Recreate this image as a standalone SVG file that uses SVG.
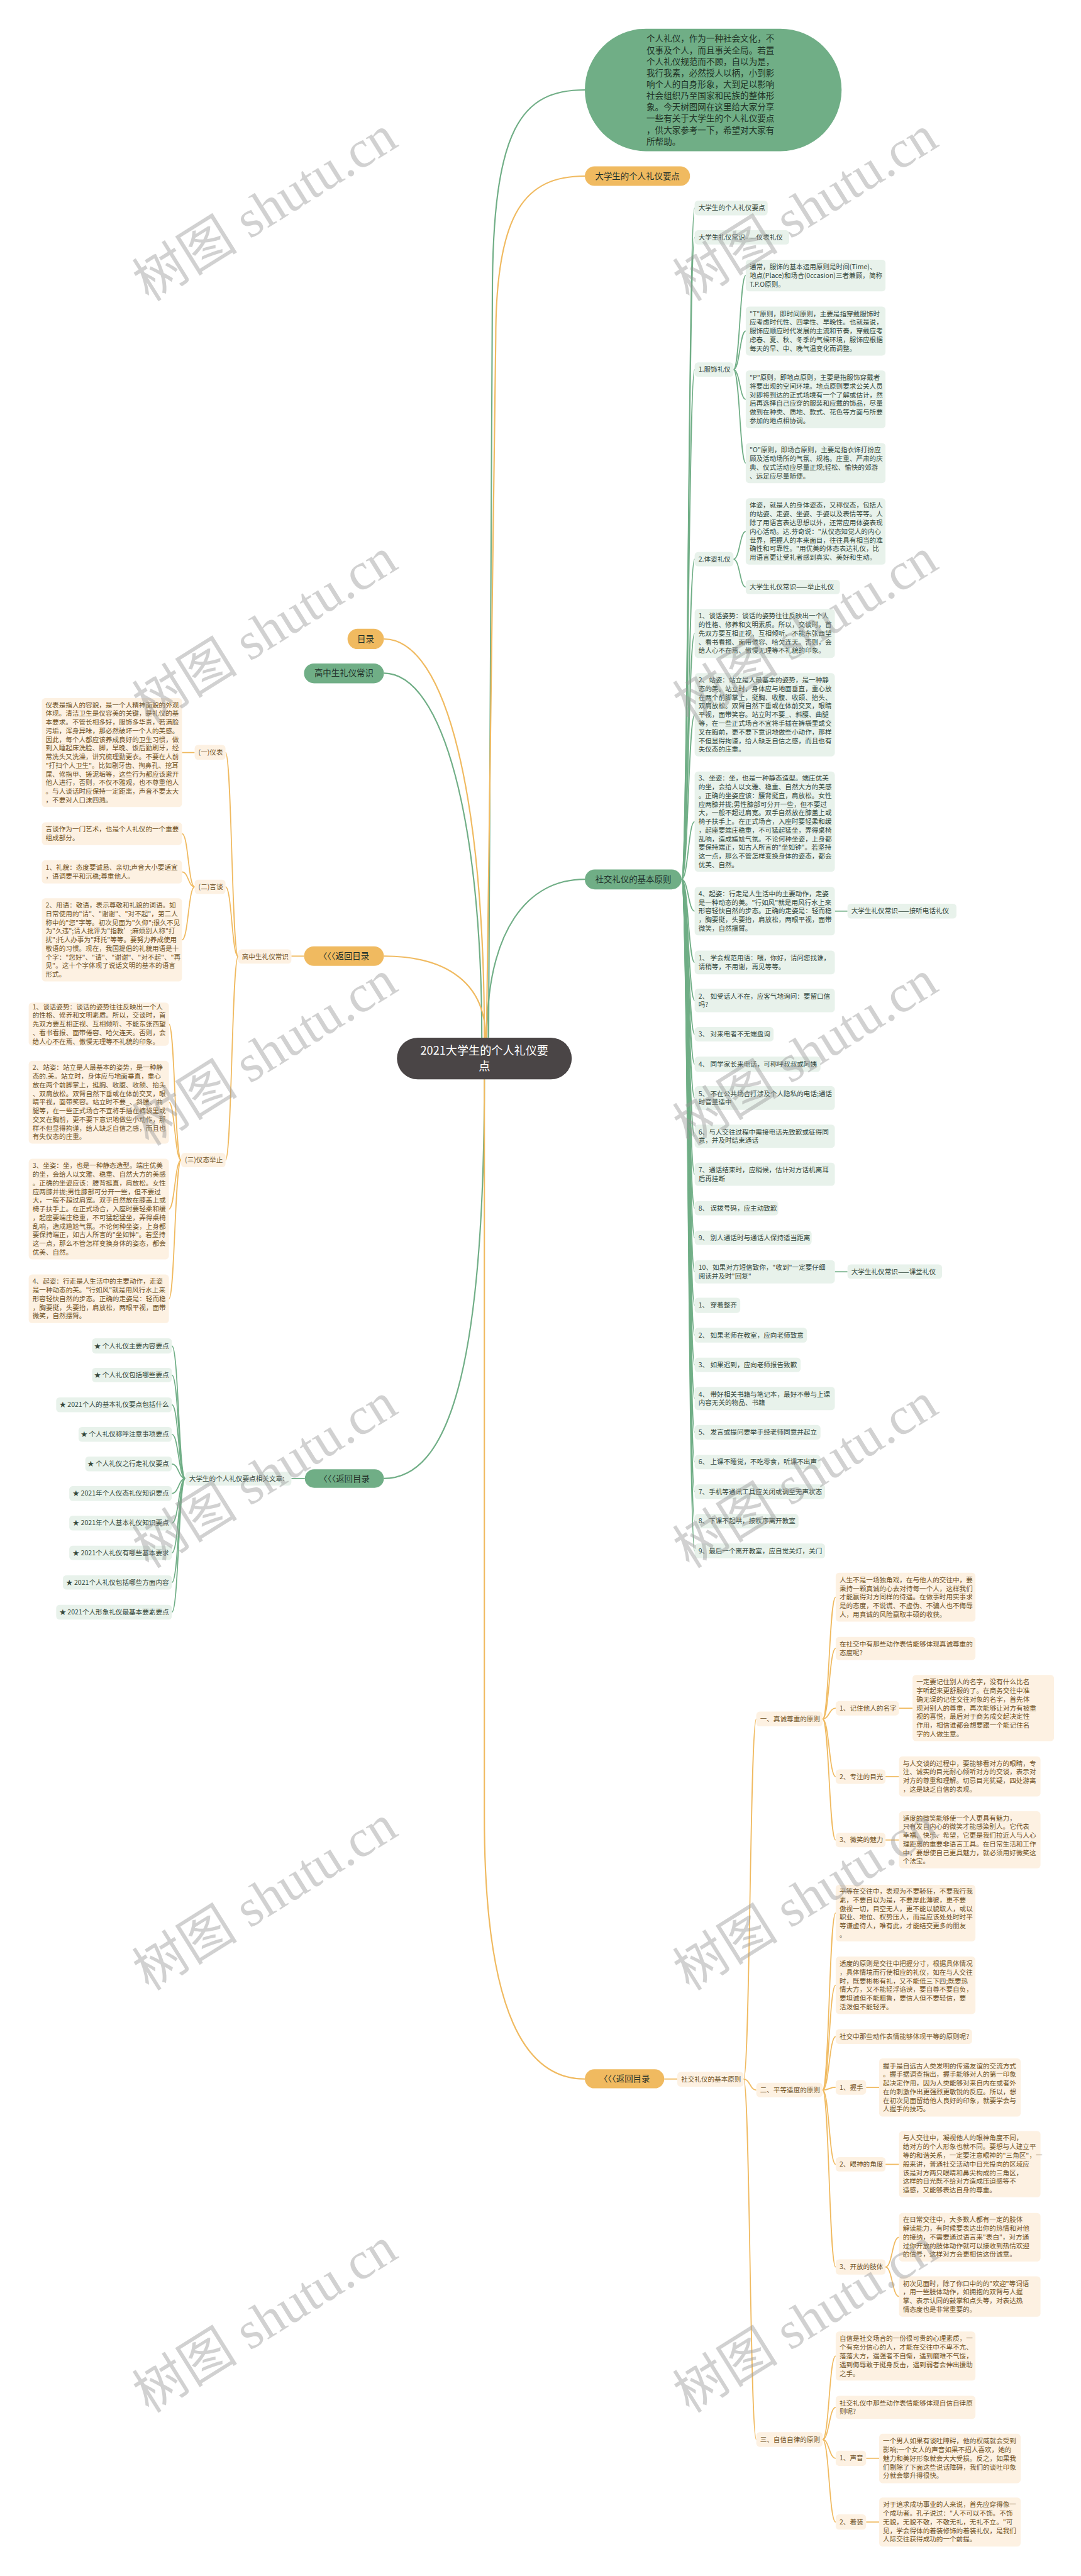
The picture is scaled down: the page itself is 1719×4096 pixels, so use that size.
<svg xmlns="http://www.w3.org/2000/svg" width="1719" height="4096" viewBox="0 0 1719 4096">
<style>
text{font-family:"Noto Sans CJK SC","Noto Sans",sans-serif}
.gbx{fill:#e8f2eb}
.obx{fill:#fdf1e2}
.gnd{fill:#70ae86}
.ond{fill:#f0ba60}
.gl{fill:none;stroke:#70ae86;stroke-width:2.6}
.ol{fill:none;stroke:#f0ba60;stroke-width:2.6}
.ml{stroke-width:3.2}
.gt{font-size:15.8px;fill:#34473b}
.ot{font-size:15.8px;fill:#6f5226}
.nt{font-size:20px;fill:#22302a;text-anchor:middle}
.wm{font-family:"Liberation Serif","Noto Sans CJK SC",serif;font-size:125px;fill:#9a9a9a;opacity:.45;text-anchor:middle}
</style>
<rect width="1719" height="4096" fill="#fff"/>
<g transform="scale(0.6715)">
<g id="connectors">
<path class="ol ml" d="M909,1513 C1060,1513 1147,1900 1147,2457"/>
<path class="gl ml" d="M909,1594 C1050,1594 1141,1950 1141,2457"/>
<path class="ol ml" d="M909,2264 C1060,2264 1150,2330 1150,2457"/>
<path class="gl ml" d="M1385,2082 C1250,2082 1153,2200 1153,2457"/>
<path class="gl ml" d="M1385,213 C1235,213 1166,300 1166,700 L1157,2457"/>
<path class="ol ml" d="M1385,417 C1245,417 1174,500 1174,800 L1152,2457"/>
<path class="gl ml" d="M1147,2556 C1147,3250 1060,3501 909,3501"/>
<path class="ol ml" d="M1147,2556 L1147,4300 C1147,4780 1250,4923 1385,4923"/>
<path class="gl" d="M1614,2082 C1630,2082 1630,492.5 1645,492.5"/>
<path class="gl" d="M1614,2082 C1630,2082 1630,562 1645,562"/>
<path class="gl" d="M1614,2082 C1630,2082 1630,875 1645,875"/>
<path class="gl" d="M1614,2082 C1630,2082 1630,1324 1645,1324"/>
<path class="gl" d="M1614,2082 C1630,2082 1630,1500 1645,1500"/>
<path class="gl" d="M1614,2082 C1630,2082 1630,1692.5 1645,1692.5"/>
<path class="gl" d="M1614,2082 C1630,2082 1630,1945.5 1645,1945.5"/>
<path class="gl" d="M1614,2082 C1630,2082 1630,2157.5 1645,2157.5"/>
<path class="gl" d="M1614,2082 C1630,2082 1630,2279 1645,2279"/>
<path class="gl" d="M1614,2082 C1630,2082 1630,2369 1645,2369"/>
<path class="gl" d="M1614,2082 C1630,2082 1630,2449 1645,2449"/>
<path class="gl" d="M1614,2082 C1630,2082 1630,2520 1645,2520"/>
<path class="gl" d="M1614,2082 C1630,2082 1630,2600 1645,2600"/>
<path class="gl" d="M1614,2082 C1630,2082 1630,2690.5 1645,2690.5"/>
<path class="gl" d="M1614,2082 C1630,2082 1630,2780.5 1645,2780.5"/>
<path class="gl" d="M1614,2082 C1630,2082 1630,2861 1645,2861"/>
<path class="gl" d="M1614,2082 C1630,2082 1630,2931 1645,2931"/>
<path class="gl" d="M1614,2082 C1630,2082 1630,3011.5 1645,3011.5"/>
<path class="gl" d="M1614,2082 C1630,2082 1630,3091 1645,3091"/>
<path class="gl" d="M1614,2082 C1630,2082 1630,3161.5 1645,3161.5"/>
<path class="gl" d="M1614,2082 C1630,2082 1630,3232 1645,3232"/>
<path class="gl" d="M1614,2082 C1630,2082 1630,3311.5 1645,3311.5"/>
<path class="gl" d="M1614,2082 C1630,2082 1630,3391.5 1645,3391.5"/>
<path class="gl" d="M1614,2082 C1630,2082 1630,3462 1645,3462"/>
<path class="gl" d="M1614,2082 C1630,2082 1630,3532.5 1645,3532.5"/>
<path class="gl" d="M1614,2082 C1630,2082 1630,3602 1645,3602"/>
<path class="gl" d="M1614,2082 C1630,2082 1630,3672.5 1645,3672.5"/>
<path class="gl" d="M1737,875 C1752,875 1752,652.5 1766,652.5"/>
<path class="gl" d="M1737,875 C1752,875 1752,784 1766,784"/>
<path class="gl" d="M1737,875 C1752,875 1752,945.5 1766,945.5"/>
<path class="gl" d="M1737,875 C1752,875 1752,1096.5 1766,1096.5"/>
<path class="gl" d="M1737,1324 C1752,1324 1752,1258.5 1766,1258.5"/>
<path class="gl" d="M1737,1324 C1752,1324 1752,1390 1766,1390"/>
<path class="gl" d="M1977,2157.5 H2007"/>
<path class="gl" d="M1977,3011.5 H2007"/>
<path class="ol" d="M720,2264 H690"/>
<path class="ol" d="M564,2265 C549,2265 549,1782 534,1782"/>
<path class="ol" d="M564,2265 C549,2265 549,2100 534,2100"/>
<path class="ol" d="M564,2265 C549,2265 549,2747 534,2747"/>
<path class="ol" d="M461,1782 H431"/>
<path class="ol" d="M461,2100 C446,2100 446,1974 431,1974"/>
<path class="ol" d="M461,2100 C446,2100 446,2064.5 431,2064.5"/>
<path class="ol" d="M461,2100 C446,2100 446,2225.5 431,2225.5"/>
<path class="ol" d="M429,2747 C414,2747 414,2425 400,2425"/>
<path class="ol" d="M429,2747 C414,2747 414,2610 400,2610"/>
<path class="ol" d="M429,2747 C414,2747 414,2863 400,2863"/>
<path class="ol" d="M429,2747 C414,2747 414,3075.5 400,3075.5"/>
<path class="gl" d="M722,3501 H690"/>
<path class="gl" d="M439,3501 C423,3501 423,3187 407,3187"/>
<path class="gl" d="M439,3501 C423,3501 423,3256 407,3256"/>
<path class="gl" d="M439,3501 C423,3501 423,3326.5 407,3326.5"/>
<path class="gl" d="M439,3501 C423,3501 423,3396.5 407,3396.5"/>
<path class="gl" d="M439,3501 C423,3501 423,3466.5 407,3466.5"/>
<path class="gl" d="M439,3501 C423,3501 423,3536.5 407,3536.5"/>
<path class="gl" d="M439,3501 C423,3501 423,3606.5 407,3606.5"/>
<path class="gl" d="M439,3501 C423,3501 423,3677 407,3677"/>
<path class="gl" d="M439,3501 C423,3501 423,3747 407,3747"/>
<path class="gl" d="M439,3501 C423,3501 423,3817.5 407,3817.5"/>
<path class="ol" d="M1573,4923 H1604"/>
<path class="ol" d="M1761,4923 C1776,4923 1776,4070.5 1791,4070.5"/>
<path class="ol" d="M1761,4923 C1776,4923 1776,4949 1791,4949"/>
<path class="ol" d="M1761,4923 C1776,4923 1776,5776.5 1791,5776.5"/>
<path class="ol" d="M1948,4070.5 C1963.5,4070.5 1963.5,3782 1979,3782"/>
<path class="ol" d="M1948,4070.5 C1963.5,4070.5 1963.5,3903.5 1979,3903.5"/>
<path class="ol" d="M1948,4070.5 C1963.5,4070.5 1963.5,4045 1979,4045"/>
<path class="ol" d="M1948,4070.5 C1963.5,4070.5 1963.5,4207 1979,4207"/>
<path class="ol" d="M1948,4070.5 C1963.5,4070.5 1963.5,4357 1979,4357"/>
<path class="ol" d="M2129,4045 H2161"/>
<path class="ol" d="M2097,4207 H2129"/>
<path class="ol" d="M2097,4357 H2129"/>
<path class="ol" d="M1948,4949 C1963.5,4949 1963.5,4530 1979,4530"/>
<path class="ol" d="M1948,4949 C1963.5,4949 1963.5,4701 1979,4701"/>
<path class="ol" d="M1948,4949 C1963.5,4949 1963.5,4822.5 1979,4822.5"/>
<path class="ol" d="M1948,4949 C1963.5,4949 1963.5,4942.5 1979,4942.5"/>
<path class="ol" d="M1948,4949 C1963.5,4949 1963.5,5125 1979,5125"/>
<path class="ol" d="M1948,4949 C1963.5,4949 1963.5,5368 1979,5368"/>
<path class="ol" d="M2051,4943 H2082"/>
<path class="ol" d="M2097,5125 H2129"/>
<path class="ol" d="M2097,5368 C2113,5368 2113,5297.5 2129,5297.5"/>
<path class="ol" d="M2097,5368 C2113,5368 2113,5438 2129,5438"/>
<path class="ol" d="M1948,5776.5 C1963.5,5776.5 1963.5,5579 1979,5579"/>
<path class="ol" d="M1948,5776.5 C1963.5,5776.5 1963.5,5700.5 1979,5700.5"/>
<path class="ol" d="M1948,5776.5 C1963.5,5776.5 1963.5,5821 1979,5821"/>
<path class="ol" d="M1948,5776.5 C1963.5,5776.5 1963.5,5972 1979,5972"/>
<path class="ol" d="M2051,5821 H2082"/>
<path class="ol" d="M2051,5972 H2082"/>
</g>

<g id="intro">
<rect x="1385" y="68" width="608" height="290" rx="145" class="gnd"/>
<text font-size="20.2" fill="#1f3326" x="1531" y="99"><tspan x="1531">个人礼仪，作为一种社会文化，不</tspan><tspan x="1531" dy="27">仅事及个人，而且事关全局。若置</tspan><tspan x="1531" dy="27">个人礼仪规范而不顾，自以为是，</tspan><tspan x="1531" dy="27">我行我素，必然授人以柄，小到影</tspan><tspan x="1531" dy="27">响个人的自身形象，大到足以影响</tspan><tspan x="1531" dy="27">社会组织乃至国家和民族的整体形</tspan><tspan x="1531" dy="27">象。今天树图网在这里给大家分享</tspan><tspan x="1531" dy="27">一些有关于大学生的个人礼仪要点</tspan><tspan x="1531" dy="27">，供大家参考一下，希望对大家有</tspan><tspan x="1531" dy="27">所帮助。</tspan></text>
</g>
<g id="top-orange"><rect x="1385" y="394" width="249" height="46" rx="23" class="ond"/><text class="nt" x="1509.5" y="424">大学生的个人礼仪要点</text></g>
<g id="center"><rect x="940" y="2457" width="414" height="99" rx="49.5" fill="#4a4546"/><text font-size="27" fill="#fff" text-anchor="middle" x="1147" y="2498"><tspan x="1147">2021大学生的个人礼仪要</tspan><tspan x="1147" dy="36">点</tspan></text></g>
<g id="mulu"><rect x="823" y="1489" width="86" height="48" rx="24" class="ond"/><text class="nt" x="866" y="1520">目录</text></g>
<g id="gaozhong"><rect x="720" y="1571" width="189" height="47" rx="23.5" class="gnd"/><text class="nt" x="814.5" y="1601.5">高中生礼仪常识</text></g>
<g id="back1"><rect x="720" y="2241" width="189" height="46" rx="23" class="ond"/><text class="nt" x="814.5" y="2271">〈〈〈返回目录</text></g>
<g id="shejiao"><rect x="1385" y="2059" width="229" height="47" rx="23.5" class="gnd"/><text class="nt" x="1499.5" y="2089.5">社交礼仪的基本原则</text></g>
<g id="back2"><rect x="722" y="3479" width="187" height="44" rx="22" class="gnd"/><text class="nt" x="815.5" y="3508">〈〈〈返回目录</text></g>
<g id="back3"><rect x="1385" y="4900" width="188" height="45" rx="22.5" class="ond"/><text class="nt" x="1479" y="4930">〈〈〈返回目录</text></g>

<g id="r-labels" class="gt">
<g id="r1"><rect x="1645" y="475" width="173" height="35" rx="8" class="gbx"/><text class="gt" x="1654" y="498">大学生的个人礼仪要点</text></g>
<g id="r2"><rect x="1645" y="545" width="224" height="34" rx="8" class="gbx"/><text class="gt" x="1654" y="567.5">大学生礼仪常识——仪表礼仪</text></g>
<g id="r3"><rect x="1645" y="858" width="92" height="34" rx="8" class="gbx"/><text class="gt" x="1654" y="880.5">1.服饰礼仪</text></g>
<g id="r4"><rect x="1645" y="1307" width="92" height="34" rx="8" class="gbx"/><text class="gt" x="1654" y="1329.5">2.体姿礼仪</text></g>
<g id="r5"><rect x="1766" y="1373" width="223" height="34" rx="8" class="gbx"/><text class="gt" x="1775" y="1395.5">大学生礼仪常识——举止礼仪</text></g>
<g id="r6"><rect x="2007" y="2140" width="258" height="35" rx="8" class="gbx"/><text class="gt" x="2016" y="2163">大学生礼仪常识——接听电话礼仪</text></g>
<g id="r7"><rect x="2007" y="2994" width="224" height="34" rx="8" class="gbx"/><text class="gt" x="2016" y="3016.5">大学生礼仪常识——课堂礼仪</text></g>
</g>

<g id="r-fushi">
<rect x="1766" y="615" width="331" height="75" rx="8" class="gbx"/>
<text class="gt" x="1775" y="637.5"><tspan x="1775">通常，服饰的基本运用原则是时间(Time)、</tspan><tspan x="1775" dy="20.5">地点(Place)和场合(0ccasion)三者兼顾，简称</tspan><tspan x="1775" dy="20.5">T.P.O原则。</tspan></text>
<rect x="1766" y="726" width="331" height="116" rx="8" class="gbx"/>
<text class="gt" x="1775" y="748.5"><tspan x="1775">"T"原则，即时间原则，主要是指穿戴服饰时</tspan><tspan x="1775" dy="20.5">应考虑时代性、四季性、早晚性。也就是说，</tspan><tspan x="1775" dy="20.5">服饰应顺应时代发展的主流和节奏，穿戴应考</tspan><tspan x="1775" dy="20.5">虑春、夏、秋、冬季的气候环境，服饰应根据</tspan><tspan x="1775" dy="20.5">每天的早、中、晚气温变化而调整。</tspan></text>
<rect x="1766" y="877" width="331" height="137" rx="8" class="gbx"/>
<text class="gt" x="1775" y="899.75"><tspan x="1775">"P"原则，即地点原则，主要是指服饰穿戴者</tspan><tspan x="1775" dy="20.5">将要出现的空间环境。地点原则要求公关人员</tspan><tspan x="1775" dy="20.5">对即将到达的正式场境有一个了解或估计，然</tspan><tspan x="1775" dy="20.5">后再选择自己应穿的服装和应戴的饰品，尽量</tspan><tspan x="1775" dy="20.5">做到在种类、质地、款式、花色等方面与所要</tspan><tspan x="1775" dy="20.5">参加的地点相协调。</tspan></text>
<rect x="1766" y="1049" width="331" height="95" rx="8" class="gbx"/>
<text class="gt" x="1775" y="1071.25"><tspan x="1775">"O"原则，即场合原则，主要是指衣饰打扮应</tspan><tspan x="1775" dy="20.5">顾及活动场所的气氛、规格。庄重、严肃的庆</tspan><tspan x="1775" dy="20.5">典、仪式活动应尽量正规;轻松、愉快的郊游</tspan><tspan x="1775" dy="20.5">、远足应尽量随便。</tspan></text>
<rect x="1766" y="1180" width="331" height="157" rx="8" class="gbx"/>
<text class="gt" x="1775" y="1202.5"><tspan x="1775">体姿，就是人的身体姿态，又称仪态，包括人</tspan><tspan x="1775" dy="20.5">的站姿、走姿、坐姿、手姿以及表情等等。人</tspan><tspan x="1775" dy="20.5">除了用语言表达思想以外，还常应用体姿表现</tspan><tspan x="1775" dy="20.5">内心活动。达.芬奇说："从仪态知觉人的内心</tspan><tspan x="1775" dy="20.5">世界，把握人的本来面目，往往具有相当的准</tspan><tspan x="1775" dy="20.5">确性和可靠性。"用优美的体态表达礼仪，比</tspan><tspan x="1775" dy="20.5">用语言更让受礼者感到真实、美好和生动。</tspan></text>
</g>

<g id="r-juzhi">
<rect x="1645" y="1442" width="332" height="116" rx="8" class="gbx"/>
<text class="gt" x="1654" y="1464.5"><tspan x="1654">1、谈话姿势：谈话的姿势往往反映出一个人</tspan><tspan x="1654" dy="20.5">的性格、修养和文明素质。所以，交谈时，首</tspan><tspan x="1654" dy="20.5">先双方要互相正视、互相倾听、不能东张西望</tspan><tspan x="1654" dy="20.5">、看书看报、面带倦容、哈欠连天。否则，会</tspan><tspan x="1654" dy="20.5">给人心不在焉、傲慢无理等不礼貌的印象。</tspan></text>
<rect x="1645" y="1594" width="332" height="197" rx="8" class="gbx"/>
<text class="gt" x="1654" y="1616"><tspan x="1654">2、站姿：站立是人最基本的姿势，是一种静</tspan><tspan x="1654" dy="20.5">态的美。站立时，身体应与地面垂直，重心放</tspan><tspan x="1654" dy="20.5">在两个前脚掌上，挺胸、收腹、收颌、抬头、</tspan><tspan x="1654" dy="20.5">双肩放松。双臂自然下垂或在体前交叉，眼睛</tspan><tspan x="1654" dy="20.5">平视，面带笑容。站立时不要_、斜腰、曲腿</tspan><tspan x="1654" dy="20.5">等，在一些正式场合不宜将手插在裤袋里或交</tspan><tspan x="1654" dy="20.5">叉在胸前，更不要下意识地做些小动作，那样</tspan><tspan x="1654" dy="20.5">不但显得拘谨，给人缺乏自信之感，而且也有</tspan><tspan x="1654" dy="20.5">失仪态的庄重。</tspan></text>
<rect x="1645" y="1827" width="332" height="237" rx="8" class="gbx"/>
<text class="gt" x="1654" y="1848.5"><tspan x="1654">3、坐姿：坐，也是一种静态造型。端庄优美</tspan><tspan x="1654" dy="20.5">的坐，会给人以文雅、稳重、自然大方的美感</tspan><tspan x="1654" dy="20.5">。正确的坐姿应该：腰背挺直，肩放松。女性</tspan><tspan x="1654" dy="20.5">应两膝并拢;男性膝部可分开一些，但不要过</tspan><tspan x="1654" dy="20.5">大，一般不超过肩宽。双手自然放在膝盖上或</tspan><tspan x="1654" dy="20.5">椅子扶手上。在正式场合，入座时要轻柔和缓</tspan><tspan x="1654" dy="20.5">，起座要端庄稳重，不可猛起猛坐，弄得桌椅</tspan><tspan x="1654" dy="20.5">乱响，造成尴尬气氛。不论何种坐姿，上身都</tspan><tspan x="1654" dy="20.5">要保持端正，如古人所言的"坐如钟"。若坚持</tspan><tspan x="1654" dy="20.5">这一点，那么不管怎样变换身体的姿态，都会</tspan><tspan x="1654" dy="20.5">优美、自然。</tspan></text>
<rect x="1645" y="2100" width="332" height="115" rx="8" class="gbx"/>
<text class="gt" x="1654" y="2122"><tspan x="1654">4、起姿：行走是人生活中的主要动作，走姿</tspan><tspan x="1654" dy="20.5">是一种动态的美。"行如风"就是用风行水上来</tspan><tspan x="1654" dy="20.5">形容轻快自然的步态。正确的走姿是：轻而稳</tspan><tspan x="1654" dy="20.5">，胸要挺，头要抬，肩放松，两眼平视，面带</tspan><tspan x="1654" dy="20.5">微笑，自然摆臂。</tspan></text>
</g>

<g id="r-phone">
<rect x="1645" y="2251" width="332" height="56" rx="8" class="gbx"/>
<text class="gt" x="1654" y="2274.25"><tspan x="1654">1、 学会规范用语：喂，你好，请问您找谁，</tspan><tspan x="1654" dy="20.5">请稍等，不用谢，再见等等。</tspan></text>
<rect x="1645" y="2341" width="332" height="56" rx="8" class="gbx"/>
<text class="gt" x="1654" y="2364.25"><tspan x="1654">2、 如受话人不在，应客气地询问：要留口信</tspan><tspan x="1654" dy="20.5">吗?</tspan></text>
<rect x="1645" y="2432" width="187" height="34" rx="8" class="gbx"/>
<text class="gt" x="1654" y="2454.5">3、 对来电者不无端盘询</text>
<rect x="1645" y="2502" width="298" height="36" rx="8" class="gbx"/>
<text class="gt" x="1654" y="2525.5">4、 同学家长来电话，可称呼叔叔或阿姨</text>
<rect x="1645" y="2572" width="332" height="56" rx="8" class="gbx"/>
<text class="gt" x="1654" y="2595.25"><tspan x="1654">5、 不在公共场合打涉及个人隐私的电话;通话</tspan><tspan x="1654" dy="20.5">时音量适中</tspan></text>
<rect x="1645" y="2663" width="332" height="55" rx="8" class="gbx"/>
<text class="gt" x="1654" y="2686"><tspan x="1654">6、与人交往过程中需接电话先致歉或征得同</tspan><tspan x="1654" dy="20.5">意，并及时结束通话</tspan></text>
<rect x="1645" y="2753" width="332" height="55" rx="8" class="gbx"/>
<text class="gt" x="1654" y="2776"><tspan x="1654">7、通话结束时，应稍候，估计对方话机离耳</tspan><tspan x="1654" dy="20.5">后再挂断</tspan></text>
<rect x="1645" y="2844" width="198" height="34" rx="8" class="gbx"/>
<text class="gt" x="1654" y="2866.5">8、 误拨号码，应主动致歉</text>
<rect x="1645" y="2914" width="277" height="34" rx="8" class="gbx"/>
<text class="gt" x="1654" y="2936.5">9、 别人通话时与通话人保持适当距离</text>
<rect x="1645" y="2984" width="332" height="55" rx="8" class="gbx"/>
<text class="gt" x="1654" y="3007"><tspan x="1654">10、如果对方短信致你，"收到"一定要仔细</tspan><tspan x="1654" dy="20.5">阅读并及时"回复"</tspan></text>
</g>

<g id="r-class">
<rect x="1645" y="3073" width="108" height="36" rx="8" class="gbx"/>
<text class="gt" x="1654" y="3096.5">1、 穿着整齐</text>
<rect x="1645" y="3144" width="266" height="35" rx="8" class="gbx"/>
<text class="gt" x="1654" y="3167">2、 如果老师在教室，应向老师致意</text>
<rect x="1645" y="3215" width="251" height="34" rx="8" class="gbx"/>
<text class="gt" x="1654" y="3237.5">3、 如果迟到，应向老师报告致歉</text>
<rect x="1645" y="3284" width="332" height="55" rx="8" class="gbx"/>
<text class="gt" x="1654" y="3307"><tspan x="1654">4、 带好相关书籍与笔记本，最好不带与上课</tspan><tspan x="1654" dy="20.5">内容无关的物品、书籍</tspan></text>
<rect x="1645" y="3374" width="298" height="35" rx="8" class="gbx"/>
<text class="gt" x="1654" y="3397">5、 发言或提问要举手经老师同意并起立</text>
<rect x="1645" y="3445" width="298" height="34" rx="8" class="gbx"/>
<text class="gt" x="1654" y="3467.5">6、 上课不睡觉，不吃零食，听课不出声</text>
<rect x="1645" y="3515" width="309" height="35" rx="8" class="gbx"/>
<text class="gt" x="1654" y="3538">7、手机等通讯工具应关闭或调至无声状态</text>
<rect x="1645" y="3585" width="246" height="34" rx="8" class="gbx"/>
<text class="gt" x="1654" y="3607.5">8、下课不起哄，按秩序离开教室</text>
<rect x="1645" y="3655" width="309" height="35" rx="8" class="gbx"/>
<text class="gt" x="1654" y="3678">9、最后一个离开教室，应自觉关灯，关门</text>
</g>

<g id="l-gaozhong">
<rect x="564" y="2248" width="126" height="34" rx="8" class="obx"/>
<text class="ot" x="573" y="2270.5">高中生礼仪常识</text>
<rect x="461" y="1764" width="73" height="35" rx="8" class="obx"/>
<text class="ot" x="470" y="1787.5">(一)仪表</text>
<rect x="461" y="2083" width="73" height="34" rx="8" class="obx"/>
<text class="ot" x="470" y="2105.5">(二)言谈</text>
<rect x="429" y="2730" width="105" height="34" rx="8" class="obx"/>
<text class="ot" x="438" y="2752.5">(三)仪态举止</text>
</g>

<g id="l-yibiao">
<rect x="99" y="1653" width="332" height="258" rx="8" class="obx"/>
<text class="ot" x="108" y="1674.75"><tspan x="108">仪表是指人的容貌，是一个人精神面貌的外观</tspan><tspan x="108" dy="20.5">体现。清洁卫生是仪容美的关键，是礼仪的基</tspan><tspan x="108" dy="20.5">本要求。不管长相多好，服饰多华贵，若满脸</tspan><tspan x="108" dy="20.5">污垢，浑身异味，那必然破坏一个人的美感。</tspan><tspan x="108" dy="20.5">因此，每个人都应该养成良好的卫生习惯，做</tspan><tspan x="108" dy="20.5">到入睡起床洗脸、脚，早晚、饭后勤刷牙，经</tspan><tspan x="108" dy="20.5">常洗头又洗澡，讲究梳理勤更衣。不要在人前</tspan><tspan x="108" dy="20.5">"打扫个人卫生"。比如剔牙齿、掏鼻孔、挖耳</tspan><tspan x="108" dy="20.5">屎、修指甲、搓泥垢等，这些行为都应该避开</tspan><tspan x="108" dy="20.5">他人进行，否则，不仅不雅观，也不尊重他人</tspan><tspan x="108" dy="20.5">。与人谈话时应保持一定距离，声音不要太大</tspan><tspan x="108" dy="20.5">，不要对人口沫四溅。</tspan></text>
</g>

<g id="l-yantan">
<rect x="99" y="1947" width="332" height="54" rx="8" class="obx"/>
<text class="ot" x="108" y="1969.25"><tspan x="108">言谈作为一门艺术，也是个人礼仪的一个重要</tspan><tspan x="108" dy="20.5">组成部分。</tspan></text>
<rect x="99" y="2037" width="332" height="55" rx="8" class="obx"/>
<text class="ot" x="108" y="2059.75"><tspan x="108">1、礼貌：态度要诚恳、亲切;声音大小要适宜</tspan><tspan x="108" dy="20.5">，语调要平和沉稳;尊重他人。</tspan></text>
<rect x="99" y="2127" width="332" height="197" rx="8" class="obx"/>
<text class="ot" x="108" y="2149"><tspan x="108">2、用语：敬语，表示尊敬和礼貌的词语。如</tspan><tspan x="108" dy="20.5">日常使用的"请"、"谢谢"、"对不起"，第二人</tspan><tspan x="108" dy="20.5">称中的"您"字等。初次见面为"久仰";很久不见</tspan><tspan x="108" dy="20.5">为"久违";请人批评为"指教’;麻烦别人称"打</tspan><tspan x="108" dy="20.5">扰";托人办事为"拜托"等等。要努力养成使用</tspan><tspan x="108" dy="20.5">敬语的习惯。现在，我国提倡的礼貌用语是十</tspan><tspan x="108" dy="20.5">个字："您好"、"请"、"谢谢"、"对不起"、"再</tspan><tspan x="108" dy="20.5">见"。这十个字体现了说话文明的基本的语言</tspan><tspan x="108" dy="20.5">形式。</tspan></text>
</g>

<g id="l-yitai">
<rect x="68" y="2374" width="332" height="102" rx="8" class="obx"/>
<text class="ot" x="77" y="2389.5"><tspan x="77">1、谈话姿势：谈话的姿势往往反映出一个人</tspan><tspan x="77" dy="20.5">的性格、修养和文明素质。所以，交谈时，首</tspan><tspan x="77" dy="20.5">先双方要互相正视、互相倾听、不能东张西望</tspan><tspan x="77" dy="20.5">、看书看报、面带倦容、哈欠连天。否则，会</tspan><tspan x="77" dy="20.5">给人心不在焉、傲慢无理等不礼貌的印象。</tspan></text>
<rect x="68" y="2512" width="332" height="196" rx="8" class="obx"/>
<text class="ot" x="77" y="2533.5"><tspan x="77">2、站姿：站立是人最基本的姿势，是一种静</tspan><tspan x="77" dy="20.5">态的.美。站立时，身体应与地面垂直，重心</tspan><tspan x="77" dy="20.5">放在两个前脚掌上，挺胸、收腹、收颌、抬头</tspan><tspan x="77" dy="20.5">、双肩放松。双臂自然下垂或在体前交叉，眼</tspan><tspan x="77" dy="20.5">睛平视，面带笑容。站立时不要_、斜腰、曲</tspan><tspan x="77" dy="20.5">腿等，在一些正式场合不宜将手插在裤袋里或</tspan><tspan x="77" dy="20.5">交叉在胸前，更不要下意识地做些小动作，那</tspan><tspan x="77" dy="20.5">样不但显得拘谨，给人缺乏自信之感，而且也</tspan><tspan x="77" dy="20.5">有失仪态的庄重。</tspan></text>
<rect x="68" y="2744" width="332" height="238" rx="8" class="obx"/>
<text class="ot" x="77" y="2766"><tspan x="77">3、坐姿：坐，也是一种静态造型。端庄优美</tspan><tspan x="77" dy="20.5">的坐，会给人以文雅、稳重、自然大方的美感</tspan><tspan x="77" dy="20.5">。正确的坐姿应该：腰背挺直，肩放松。女性</tspan><tspan x="77" dy="20.5">应两膝并拢;男性膝部可分开一些，但不要过</tspan><tspan x="77" dy="20.5">大，一般不超过肩宽。双手自然放在膝盖上或</tspan><tspan x="77" dy="20.5">椅子扶手上。在正式场合，入座时要轻柔和缓</tspan><tspan x="77" dy="20.5">，起座要端庄稳重，不可猛起猛坐，弄得桌椅</tspan><tspan x="77" dy="20.5">乱响，造成尴尬气氛。不论何种坐姿，上身都</tspan><tspan x="77" dy="20.5">要保持端正，如古人所言的"坐如钟"。若坚持</tspan><tspan x="77" dy="20.5">这一点，那么不管怎样变换身体的姿态，都会</tspan><tspan x="77" dy="20.5">优美、自然。</tspan></text>
<rect x="68" y="3018" width="332" height="115" rx="8" class="obx"/>
<text class="ot" x="77" y="3040"><tspan x="77">4、起姿：行走是人生活中的主要动作，走姿</tspan><tspan x="77" dy="20.5">是一种动态的美。"行如风"就是用风行水上来</tspan><tspan x="77" dy="20.5">形容轻快自然的步态。正确的走姿是：轻而稳</tspan><tspan x="77" dy="20.5">，胸要挺，头要抬，肩放松，两眼平视，面带</tspan><tspan x="77" dy="20.5">微笑，自然摆臂。</tspan></text>
</g>

<g id="l-articles">
<rect x="439" y="3485" width="251" height="33" rx="8" class="gbx"/>
<text class="gt" x="448" y="3507">大学生的个人礼仪要点相关文章:</text>
<rect x="218" y="3169" width="189" height="36" rx="8" class="gbx"/>
<text class="gt" x="400" y="3192.5" text-anchor="end">★ 个人礼仪主要内容要点</text>
<rect x="218" y="3239" width="189" height="34" rx="8" class="gbx"/>
<text class="gt" x="400" y="3261.5" text-anchor="end">★ 个人礼仪包括哪些要点</text>
<rect x="133" y="3309" width="274" height="35" rx="8" class="gbx"/>
<text class="gt" x="400" y="3332" text-anchor="end">★ 2021个人的基本礼仪要点包括什么</text>
<rect x="186" y="3379" width="221" height="35" rx="8" class="gbx"/>
<text class="gt" x="400" y="3402" text-anchor="end">★ 个人礼仪称呼注意事项要点</text>
<rect x="202" y="3449" width="205" height="35" rx="8" class="gbx"/>
<text class="gt" x="400" y="3472" text-anchor="end">★ 个人礼仪之行走礼仪要点</text>
<rect x="164" y="3519" width="243" height="35" rx="8" class="gbx"/>
<text class="gt" x="400" y="3542" text-anchor="end">★ 2021年个人仪态礼仪知识要点</text>
<rect x="164" y="3589" width="243" height="35" rx="8" class="gbx"/>
<text class="gt" x="400" y="3612" text-anchor="end">★ 2021年个人基本礼仪知识要点</text>
<rect x="164" y="3660" width="243" height="34" rx="8" class="gbx"/>
<text class="gt" x="400" y="3682.5" text-anchor="end">★ 2021个人礼仪有哪些基本要求</text>
<rect x="149" y="3730" width="258" height="34" rx="8" class="gbx"/>
<text class="gt" x="400" y="3752.5" text-anchor="end">★ 2021个人礼仪包括哪些方面内容</text>
<rect x="133" y="3800" width="274" height="35" rx="8" class="gbx"/>
<text class="gt" x="400" y="3823" text-anchor="end">★ 2021个人形象礼仪最基本要素要点</text>
</g>

<g id="b-heads">
<rect x="1604" y="4906" width="157" height="35" rx="8" class="obx"/>
<text class="ot" x="1613" y="4929">社交礼仪的基本原则</text>
<rect x="1791" y="4053" width="157" height="35" rx="8" class="obx"/>
<text class="ot" x="1800" y="4076">一、真诚尊重的原则</text>
<rect x="1791" y="4932" width="157" height="34" rx="8" class="obx"/>
<text class="ot" x="1800" y="4954.5">二、平等适度的原则</text>
<rect x="1791" y="5759" width="157" height="35" rx="8" class="obx"/>
<text class="ot" x="1800" y="5782">三、自信自律的原则</text>
<rect x="1979" y="4028" width="150" height="34" rx="8" class="obx"/>
<text class="ot" x="1988" y="4050.5">1、记住他人的名字</text>
<rect x="1979" y="4190" width="118" height="34" rx="8" class="obx"/>
<text class="ot" x="1988" y="4212.5">2、专注的目光</text>
<rect x="1979" y="4340" width="118" height="34" rx="8" class="obx"/>
<text class="ot" x="1988" y="4362.5">3、微笑的魅力</text>
<rect x="1979" y="4925" width="72" height="35" rx="8" class="obx"/>
<text class="ot" x="1988" y="4948">1、握手</text>
<rect x="1979" y="5108" width="118" height="34" rx="8" class="obx"/>
<text class="ot" x="1988" y="5130.5">2、眼神的角度</text>
<rect x="1979" y="5350" width="118" height="36" rx="8" class="obx"/>
<text class="ot" x="1988" y="5373.5">3、开放的肢体</text>
<rect x="1979" y="5803" width="72" height="36" rx="8" class="obx"/>
<text class="ot" x="1988" y="5826.5">1、声音</text>
<rect x="1979" y="5954" width="72" height="36" rx="8" class="obx"/>
<text class="ot" x="1988" y="5977.5">2、着装</text>
</g>

<g id="b-one">
<rect x="1979" y="3724" width="331" height="116" rx="8" class="obx"/>
<text class="ot" x="1988" y="3746.5"><tspan x="1988">人生不是一场独角戏，在与他人的交往中，要</tspan><tspan x="1988" dy="20.5">秉持一颗真诚的心去对待每一个人，这样我们</tspan><tspan x="1988" dy="20.5">才能赢得对方同样的待遇。在做事时用实事求</tspan><tspan x="1988" dy="20.5">是的态度，不说谎、不虚伪、不骗人也不侮辱</tspan><tspan x="1988" dy="20.5">人，用真诚的风险赢取丰硕的收获。</tspan></text>
<rect x="1979" y="3876" width="331" height="55" rx="8" class="obx"/>
<text class="ot" x="1988" y="3899"><tspan x="1988">在社交中有那些动作表情能够体现真诚尊重的</tspan><tspan x="1988" dy="20.5">态度呢?</tspan></text>
<rect x="2161" y="3966" width="335" height="157" rx="8" class="obx"/>
<text class="ot" x="2170" y="3988.5"><tspan x="2170">一定要记住别人的名字，没有什么比名</tspan><tspan x="2170" dy="20.5">字听起来更舒服的了。在商务交往中准</tspan><tspan x="2170" dy="20.5">确无误的记住交往对象的名字，首先体</tspan><tspan x="2170" dy="20.5">现对别人的尊重，再次能够让对方有被重</tspan><tspan x="2170" dy="20.5">视的喜悦，最后对于商务成交起决定性</tspan><tspan x="2170" dy="20.5">作用，相信谁都会想要跟一个能记住名</tspan><tspan x="2170" dy="20.5">字的人做生意。</tspan></text>
<rect x="2129" y="4159" width="335" height="95" rx="8" class="obx"/>
<text class="ot" x="2138" y="4181.25"><tspan x="2138">与人交谈的过程中，要能够看对方的眼睛，专</tspan><tspan x="2138" dy="20.5">注、诚实的目光耐心倾听对方的交谈，表示对</tspan><tspan x="2138" dy="20.5">对方的尊重和理解。切忌目光犹疑，四处游离</tspan><tspan x="2138" dy="20.5">，这是缺乏自信的表现。</tspan></text>
<rect x="2129" y="4289" width="335" height="135" rx="8" class="obx"/>
<text class="ot" x="2138" y="4310.75"><tspan x="2138">适度的微笑能够使一个人更具有魅力，</tspan><tspan x="2138" dy="20.5">只有发自内心的微笑才能感染别人。它代表</tspan><tspan x="2138" dy="20.5">幸福、快乐、希望，它更是我们拉近人与人心</tspan><tspan x="2138" dy="20.5">理距离的重要非语言工具。在日常生活和工作</tspan><tspan x="2138" dy="20.5">中，要想使自己更具魅力，就必须用好微笑这</tspan><tspan x="2138" dy="20.5">个法宝。</tspan></text>
</g>

<g id="b-two">
<rect x="1979" y="4463" width="331" height="134" rx="8" class="obx"/>
<text class="ot" x="1988" y="4484.25"><tspan x="1988">平等在交往中，表现为不要骄狂，不要我行我</tspan><tspan x="1988" dy="20.5">素，不要自以为是，不要厚此薄彼，更不要</tspan><tspan x="1988" dy="20.5">傲视一切，目空无人，更不能以貌取人，或以</tspan><tspan x="1988" dy="20.5">职业、地位、权势压人，而是应该处处时时平</tspan><tspan x="1988" dy="20.5">等谦虚待人，唯有此，才能结交更多的朋友</tspan><tspan x="1988" dy="20.5">。</tspan></text>
<rect x="1979" y="4633" width="331" height="136" rx="8" class="obx"/>
<text class="ot" x="1988" y="4655.25"><tspan x="1988">适度的原则是交往中把握分寸，根据具体情况</tspan><tspan x="1988" dy="20.5">，具体情境而行使相应的礼仪，如在与人交往</tspan><tspan x="1988" dy="20.5">时，既要彬彬有礼，又不能低三下四;既要热</tspan><tspan x="1988" dy="20.5">情大方，又不能轻浮谄谀，要自尊不要自负，</tspan><tspan x="1988" dy="20.5">要坦诚但不能粗鲁，要信人但不要轻信，要</tspan><tspan x="1988" dy="20.5">活泼但不能轻浮。</tspan></text>
<rect x="1979" y="4805" width="323" height="35" rx="8" class="obx"/>
<text class="ot" x="1988" y="4828">社交中那些动作表情能够体现平等的原则呢?</text>
<rect x="2082" y="4874" width="335" height="138" rx="8" class="obx"/>
<text class="ot" x="2091" y="4897.25"><tspan x="2091">握手是自远古人类发明的传递友谊的交流方式</tspan><tspan x="2091" dy="20.5">。握手据调查指出，握手能够对人的第一印象</tspan><tspan x="2091" dy="20.5">起决定作用，因为人类能够对来自内在或者外</tspan><tspan x="2091" dy="20.5">在的刺激作出更强烈更敏锐的反应。所以，想</tspan><tspan x="2091" dy="20.5">在初次见面留给他人良好的印象，就要学会与</tspan><tspan x="2091" dy="20.5">人握手的技巧。</tspan></text>
<rect x="2129" y="5046" width="335" height="157" rx="8" class="obx"/>
<text class="ot" x="2138" y="5068.5"><tspan x="2138">与人交往中，凝视他人的眼神角度不同，</tspan><tspan x="2138" dy="20.5">给对方的个人形象也就不同。要想与人建立平</tspan><tspan x="2138" dy="20.5">等的和谐关系，一定要注意眼神的"三角区"，一</tspan><tspan x="2138" dy="20.5">般来讲，普通社交活动中目光投向的区域应</tspan><tspan x="2138" dy="20.5">该是对方两只眼睛和鼻尖构成的三角区，</tspan><tspan x="2138" dy="20.5">这样的目光既不给对方造成压迫感等不</tspan><tspan x="2138" dy="20.5">适感，又能够表达自身的尊重。</tspan></text>
<rect x="2129" y="5240" width="335" height="115" rx="8" class="obx"/>
<text class="ot" x="2138" y="5262"><tspan x="2138">在日常交往中，大多数人都有一定的肢体</tspan><tspan x="2138" dy="20.5">解读能力，有时候要表达出你的热情和对他</tspan><tspan x="2138" dy="20.5">的接纳，不需要通过语言来"表白"，对方通</tspan><tspan x="2138" dy="20.5">过你开放的肢体动作就可以接收到热情欢迎</tspan><tspan x="2138" dy="20.5">的信号，这样对方会更相信这份诚意。</tspan></text>
<rect x="2129" y="5390" width="335" height="96" rx="8" class="obx"/>
<text class="ot" x="2138" y="5412.75"><tspan x="2138">初次见面时，除了你口中的的"欢迎"等词语</tspan><tspan x="2138" dy="20.5">，用一些肢体动作，如拥抱的双臂与人握</tspan><tspan x="2138" dy="20.5">掌、表示认同的鼓掌和点头等，对表达热</tspan><tspan x="2138" dy="20.5">情态度也是非常重要的。</tspan></text>
</g>

<g id="b-three">
<rect x="1979" y="5521" width="331" height="116" rx="8" class="obx"/>
<text class="ot" x="1988" y="5543.5"><tspan x="1988">自信是社交场合的一份很可贵的心理素质，一</tspan><tspan x="1988" dy="20.5">个有充分信心的人，才能在交往中不卑不亢、</tspan><tspan x="1988" dy="20.5">落落大方，遇强者不自惭，遇到磨难不气馁，</tspan><tspan x="1988" dy="20.5">遇到侮辱敢于挺身反击，遇到弱者会伸出援助</tspan><tspan x="1988" dy="20.5">之手。</tspan></text>
<rect x="1979" y="5673" width="331" height="55" rx="8" class="obx"/>
<text class="ot" x="1988" y="5695.75"><tspan x="1988">社交礼仪中那些动作表情能够体现自信自律原</tspan><tspan x="1988" dy="20.5">则呢?</tspan></text>
<rect x="2082" y="5763" width="335" height="117" rx="8" class="obx"/>
<text class="ot" x="2091" y="5786"><tspan x="2091">一个男人如果有谈吐障碍，他的权威就会受到</tspan><tspan x="2091" dy="20.5">影响;一个女人的声音如果不招人喜欢，她的</tspan><tspan x="2091" dy="20.5">魅力和美好形象就会大大受损。反之，如果我</tspan><tspan x="2091" dy="20.5">们剔除了下面这些说话障碍，我们的谈吐印象</tspan><tspan x="2091" dy="20.5">分就会攀升得很快。</tspan></text>
<rect x="2082" y="5914" width="335" height="116" rx="8" class="obx"/>
<text class="ot" x="2091" y="5936.5"><tspan x="2091">对于追求成功事业的人来说，首先应穿得像一</tspan><tspan x="2091" dy="20.5">个成功者。孔子说过："人不可以不饰。不饰</tspan><tspan x="2091" dy="20.5">无貌，无貌不敬，不敬无礼，无礼不立。"可</tspan><tspan x="2091" dy="20.5">见，学会得体的着装修饰的着装礼仪，是我们</tspan><tspan x="2091" dy="20.5">人际交往获得成功的一个前提。</tspan></text>
</g>

<g id="watermarks">
<text class="wm" transform="translate(650,530) rotate(-32)">树图 shutu.cn</text>
<text class="wm" transform="translate(1930,530) rotate(-32)">树图 shutu.cn</text>
<text class="wm" transform="translate(650,1530) rotate(-32)">树图 shutu.cn</text>
<text class="wm" transform="translate(1930,1530) rotate(-32)">树图 shutu.cn</text>
<text class="wm" transform="translate(650,2530) rotate(-32)">树图 shutu.cn</text>
<text class="wm" transform="translate(1930,2530) rotate(-32)">树图 shutu.cn</text>
<text class="wm" transform="translate(650,3530) rotate(-32)">树图 shutu.cn</text>
<text class="wm" transform="translate(1930,3530) rotate(-32)">树图 shutu.cn</text>
<text class="wm" transform="translate(650,4530) rotate(-32)">树图 shutu.cn</text>
<text class="wm" transform="translate(1930,4530) rotate(-32)">树图 shutu.cn</text>
<text class="wm" transform="translate(650,5530) rotate(-32)">树图 shutu.cn</text>
<text class="wm" transform="translate(1930,5530) rotate(-32)">树图 shutu.cn</text>
</g>
</g>
</svg>
